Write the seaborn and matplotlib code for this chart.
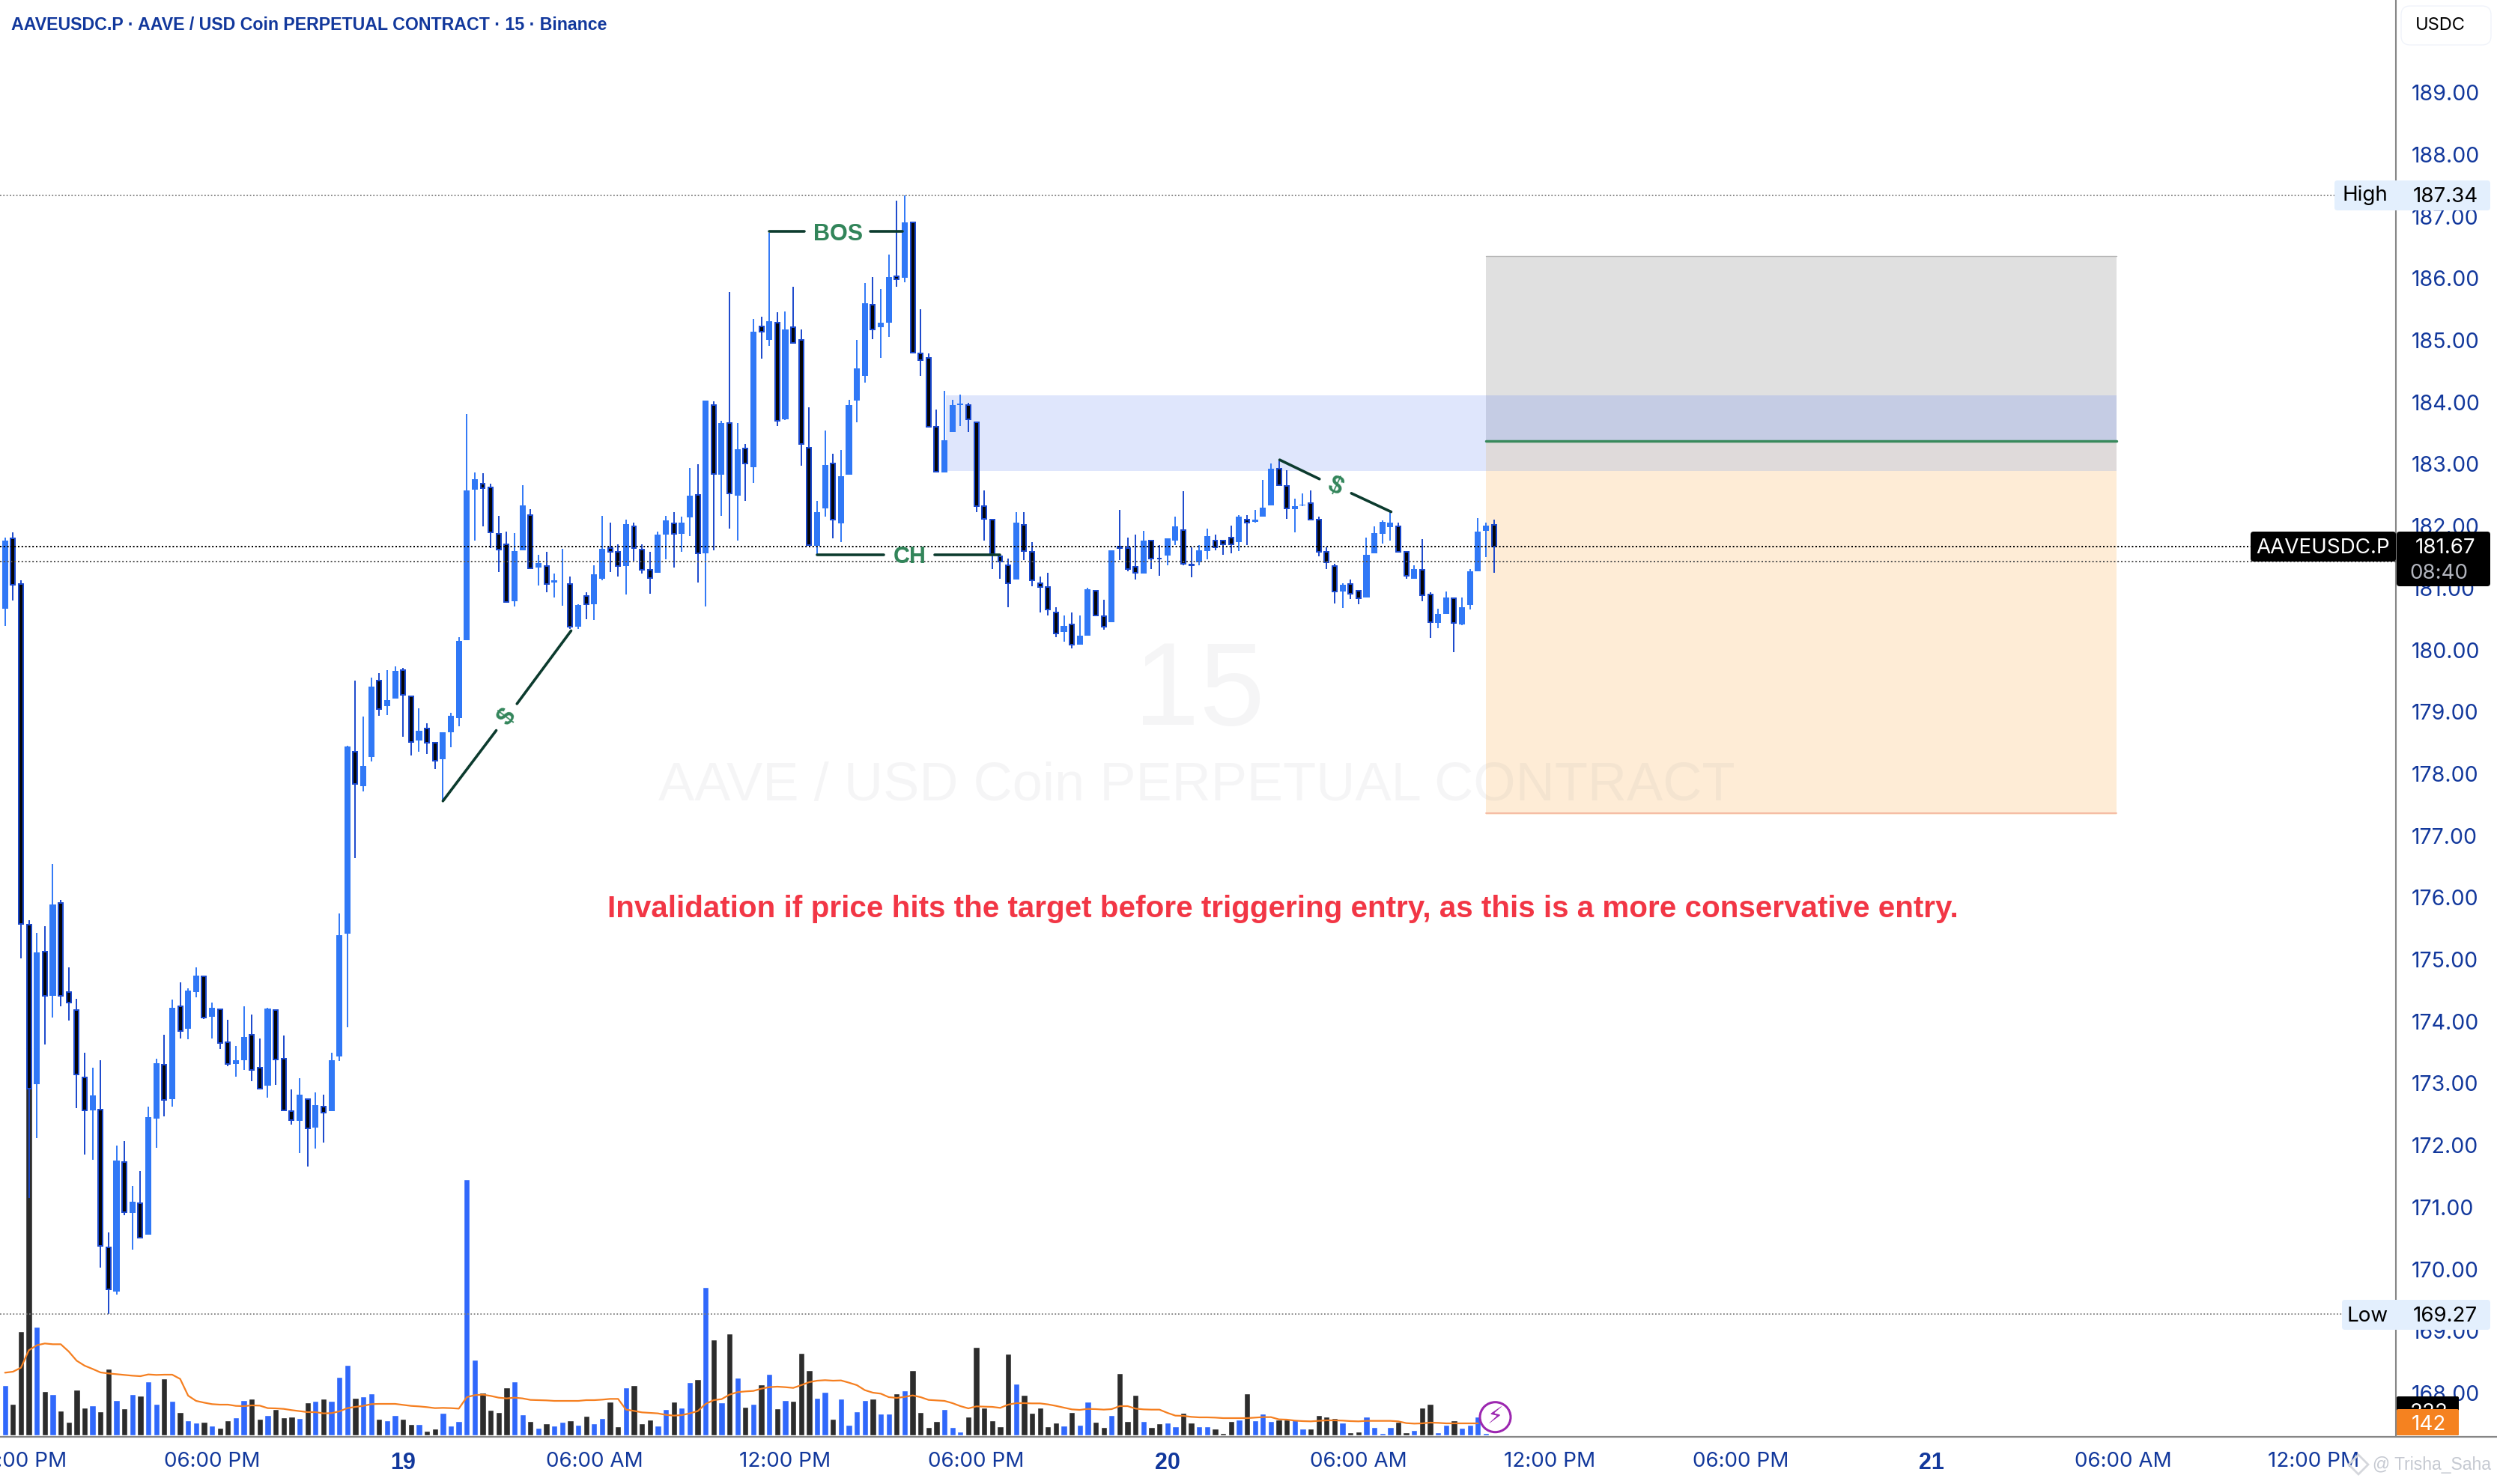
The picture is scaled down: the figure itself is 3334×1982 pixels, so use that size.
import numpy as np
import pandas as pd
import matplotlib
matplotlib.use("Agg")
import matplotlib.pyplot as plt
import matplotlib.patches as mpatches
from matplotlib.lines import Line2D
from matplotlib.transforms import IdentityTransform
import seaborn as sns

# 15 minute candles
open_prices = [
    180.66,181.80,181.07,175.56,172.99,175.13,174.41,175.91,174.47,174.18,
    173.09,172.56,172.57,170.35,169.64,171.73,170.91,171.06,170.56,172.43,
    173.30,172.74,174.24,173.88,174.47,174.73,174.07,174.20,173.67,173.31,
    173.38,173.78,173.25,172.96,174.18,173.40,172.55,172.39,172.75,172.28,
    172.62,172.55,173.43,175.42,178.36,177.80,178.27,179.50,179.09,179.21,
    179.67,179.25,178.54,178.73,178.50,178.24,178.67,178.90,180.16,182.59,
    182.69,182.63,181.88,181.70,180.79,181.61,182.18,181.33,181.36,181.09,
    181.06,181.07,180.38,180.87,180.74,181.15,181.64,181.59,181.35,181.99,
    181.62,181.29,181.24,181.86,182.04,181.87,182.14,182.50,181.56,183.96,
    182.83,183.67,182.49,183.25,182.95,185.22,185.01,185.29,183.73,185.21,
    185.01,183.27,181.68,182.29,183.01,182.04,182.83,184.03,184.42,185.57,
    185.21,185.29,186.03,186.01,186.91,184.79,184.72,183.60,182.87,183.52,
    183.96,183.96,183.68,182.32,182.10,181.51,181.37,181.14,182.02,181.59,
    181.08,181.02,180.60,180.29,180.41,180.08,180.23,180.96,180.55,180.45,
    181.67,181.65,181.34,181.23,181.77,181.48,181.52,181.76,181.94,181.38,
    181.42,181.60,181.76,181.76,181.82,181.74,182.11,182.07,182.15,182.33,
    182.93,182.65,182.27,182.34,182.37,182.11,181.59,181.36,180.94,181.07,
    180.95,180.85,181.56,181.87,181.98,182.00,181.59,181.15,181.30,180.89,
    180.43,180.58,180.83,180.41,180.72,181.27,181.92,182.02]
close_prices = [
    181.76,181.05,175.58,172.91,175.12,174.42,175.89,174.41,174.31,173.15,
    172.56,172.80,170.38,169.67,171.75,170.92,171.09,170.51,172.45,173.32,
    172.73,174.22,173.85,174.50,174.74,174.06,174.22,173.65,173.31,173.37,
    173.75,173.22,172.92,174.21,173.39,172.56,172.41,172.82,172.27,172.65,
    172.53,173.37,175.39,178.44,177.83,178.13,179.41,179.05,179.19,179.66,
    179.27,178.51,178.70,178.50,178.21,178.67,178.94,180.15,182.57,182.76,
    182.61,181.90,181.62,180.78,181.60,182.33,181.32,181.40,181.07,181.13,
    181.07,180.38,180.73,180.74,181.22,181.63,181.59,181.35,182.03,181.64,
    181.29,181.16,181.86,182.09,181.87,182.06,182.49,181.56,184.03,182.84,
    183.67,182.53,183.24,183.01,185.14,185.14,185.31,183.70,185.17,184.96,
    183.33,181.69,182.22,182.99,182.10,182.80,183.96,184.55,185.60,185.18,
    185.28,186.02,185.99,186.91,184.80,184.68,183.60,182.88,183.39,183.95,
    183.98,183.73,182.32,182.12,181.55,181.43,181.08,182.06,181.60,181.12,
    181.02,180.65,180.27,180.39,180.08,180.23,180.98,180.56,180.37,181.61,
    181.65,181.31,181.24,181.77,181.47,181.47,181.80,182.00,181.39,181.37,
    181.61,181.84,181.66,181.70,181.70,182.15,182.05,182.11,182.30,182.93,
    182.66,182.29,182.32,182.35,182.11,181.59,181.41,180.94,181.05,180.91,
    180.83,181.54,181.89,182.07,182.06,181.59,181.20,181.31,180.88,180.45,
    180.58,180.85,180.43,180.69,181.27,181.91,182.01,181.67]
high_prices = [
    181.82,181.90,181.12,175.63,175.43,175.54,176.54,175.96,174.87,174.36,
    173.50,173.25,173.37,170.59,171.99,172.07,171.34,171.58,172.62,173.40,
    173.79,174.35,174.63,174.53,174.87,174.74,174.30,174.20,174.03,173.60,
    174.24,174.11,173.73,174.22,174.18,173.77,172.90,173.08,172.75,172.85,
    172.82,173.49,175.74,178.45,179.51,178.93,179.55,179.62,179.67,179.74,
    179.71,179.25,179.06,178.81,178.50,178.67,178.98,180.21,183.81,182.87,
    182.85,182.68,182.16,181.91,181.89,182.66,182.27,181.53,181.59,181.23,
    181.63,181.19,180.74,180.93,181.37,182.17,182.05,181.70,182.11,182.05,
    181.71,181.59,181.91,182.16,182.22,182.15,182.94,183.00,184.03,184.02,
    183.70,185.78,183.67,183.32,185.35,185.38,186.74,185.45,185.47,185.87,
    185.17,183.92,182.41,183.54,183.17,183.23,184.04,185.01,185.92,186.02,
    185.83,186.39,187.26,187.34,186.91,185.50,184.79,183.88,184.18,184.04,
    184.12,183.99,183.68,182.57,182.10,181.53,181.47,182.22,182.22,181.74,
    181.19,181.25,180.69,180.56,180.60,180.56,181.01,180.96,180.81,181.61,
    182.26,181.81,181.86,181.92,181.77,181.69,181.80,182.15,182.56,181.66,
    181.69,181.96,181.86,181.76,182.01,182.18,182.18,182.26,182.74,183.01,
    183.08,182.90,182.44,182.53,182.57,182.15,181.66,181.39,181.08,181.14,
    180.95,181.81,182.00,182.09,182.22,182.05,181.59,181.37,181.79,180.93,
    180.66,180.94,180.83,180.85,181.31,182.13,182.06,182.11]
low_prices = [
    180.39,180.80,175.02,171.15,172.12,173.63,174.06,174.25,174.02,172.60,
    171.85,171.76,170.02,169.27,169.59,170.87,170.31,170.51,170.56,171.96,
    172.47,172.63,173.73,173.71,174.39,174.04,173.73,173.55,173.28,173.11,
    173.22,173.03,172.92,172.77,172.98,172.56,172.33,171.87,171.66,171.95,
    172.05,172.55,173.36,173.91,176.64,177.72,178.20,178.94,178.95,179.21,
    178.60,178.30,178.36,178.32,178.08,177.56,178.43,178.77,180.16,181.76,
    181.99,181.65,181.26,180.78,180.70,181.61,181.32,181.04,180.93,180.85,
    180.71,180.34,180.34,180.50,180.48,181.12,181.26,181.19,180.90,181.43,
    181.23,180.91,181.24,181.46,181.33,181.58,181.84,181.09,180.70,181.61,
    182.16,181.96,181.76,182.41,182.70,184.70,184.91,183.61,183.71,184.95,
    182.98,181.69,181.53,182.15,181.80,181.74,182.83,183.68,184.32,185.02,
    184.72,185.06,185.86,185.94,184.80,184.43,183.60,182.87,182.87,183.52,
    183.61,183.52,182.23,181.76,181.31,181.15,180.69,181.15,181.45,181.03,
    180.61,180.56,180.21,180.13,180.02,180.08,180.23,180.54,180.33,180.45,
    181.45,181.27,181.14,181.23,181.31,181.20,181.37,181.69,181.37,181.17,
    181.37,181.46,181.61,181.54,181.56,181.60,181.69,182.06,182.15,182.33,
    182.66,182.12,181.90,182.32,182.11,181.51,181.31,180.75,180.68,180.82,
    180.74,180.85,181.56,181.72,181.77,181.59,181.15,181.15,180.79,180.19,
    180.35,180.58,179.96,180.40,180.65,181.27,181.50,181.25]

volume = [
    201,126,417,1551,435,177,165,99,54,183,
    111,120,96,267,141,108,165,159,216,126,
    228,138,93,60,51,54,39,30,60,72,
    141,147,66,81,105,72,75,69,132,138,
    147,138,234,282,150,156,168,66,60,81,
    66,45,45,18,27,90,39,57,1026,303,
    171,102,93,192,216,84,57,30,48,39,
    54,60,42,78,48,69,135,36,192,201,
    48,63,39,105,135,111,213,225,594,384,
    132,408,231,114,126,204,246,108,141,138,
    330,261,150,174,66,147,42,96,141,147,
    87,87,168,180,261,93,33,57,105,33,
    15,75,354,111,60,36,327,207,162,90,
    111,36,51,39,93,42,135,54,33,81,
    249,57,162,57,33,48,51,36,90,51,
    36,36,27,9,57,63,168,60,87,57,
    63,63,63,27,27,81,75,69,51,12,
    15,75,33,9,33,54,12,21,111,126,
    12,42,60,30,42,75,9,3]
volume_ma = [
    251,255,271,341,361,368,365,365,336,299,279,266,252,248,245,242,239,237,244,242,
    243,243,226,159,138,131,125,123,123,118,117,120,119,109,108,106,101,97,93,93,
    88,89,96,109,114,118,125,126,126,126,122,118,116,113,109,110,109,107,153,161,
    163,158,151,148,151,148,142,141,140,138,138,138,138,141,141,143,146,146,103,98,
    92,90,88,82,79,81,88,97,126,141,145,163,173,176,
    178,187,193,195,193,190,201,213,219,221,219,220,211,201,181,171,167,153,150,154,
    160,153,142,140,138,129,117,108,116,115,114,110,123,129,129,128,128,124,118,111,
    104,102,106,105,103,105,117,117,107,104,103,103,90,79,78,74,72,72,71,69,
    69,69,69,71,73,73,64,63,59,57,56,58,60,60,59,57,56,58,58,58,58,56,49,47,48,51,
    50,48,48,48,48,48]

price_ticks = list(range(189, 167, -1))
time_tick_pos = [2, 26, 50, 74, 98, 122, 146, 170, 194, 218, 242, 266, 290]
time_tick_labels = ["12:00 PM", "06:00 PM", "19", "06:00 AM", "12:00 PM", "06:00 PM", "20",
                    "06:00 AM", "12:00 PM", "06:00 PM", "21", "06:00 AM", "12:00 PM"]
day_labels = ["19", "20", "21"]

last_price = 181.67
prev_line = 181.43
session_high = 187.34
session_low = 169.27
stop_level = 186.36
entry_level = 183.37
target_level = 177.36
zone_top = 184.11
zone_bottom = 182.89
box_start, box_end = 186.0, 265.2
zone_start = 118.2

W, H = 3334, 1982
UP = "#3078f6"
DOWN_EDGE = "#1a48cc"
TXT = "#12389c"
GREEN = "#32855a"
LINE = "#0c3b2e"
AXIS = "#868686"
SANS = "Liberation Sans"
UI = "Inter"

sns.set_theme(style="white")
plt.rcParams["font.family"] = [SANS, "DejaVu Sans"]

fig = plt.figure(figsize=(W / 100, H / 100), dpi=100, facecolor="white")
rect = [0, (H - 1918) / H, 3199 / W, 1918 / H]
ax_vol = fig.add_axes(rect, zorder=1)
ax = fig.add_axes(rect, zorder=2)
ax.patch.set_alpha(0)

n = len(close_prices)
idx = np.arange(n)
df = pd.DataFrame({"bar": idx, "open": open_prices, "high": high_prices, "low": low_prices,
                   "close": close_prices, "volume": volume})
df["side"] = np.where(df["close"] >= df["open"], "up", "down")

# volume pane
sns.barplot(data=df, x="bar", y="volume", hue="side", dodge=False, native_scale=True,
            palette={"up": "#3068fb", "down": "#2c2c2c"}, saturation=1, width=0.78,
            legend=False, ax=ax_vol)
sns.lineplot(x=np.arange(len(volume_ma)), y=volume_ma, color="#f57f20", lw=1.6, ax=ax_vol)
ax_vol.set_xlim(-0.63, 300.3)
ax_vol.set_ylim(-3, 5751)
ax_vol.axis("off")

# price pane
ax.set_xlim(-0.63, 300.3)
ax.set_ylim(167.304, 190.496)

ax.axhspan(zone_bottom, zone_top, xmin=(zone_start + 0.63) / 300.93, xmax=(box_start + 0.63) / 300.93,
           color="#dfe6fc", lw=0, zorder=1)
for lo, hi, col in [(zone_top, stop_level, "#e0e0e0"), (entry_level, zone_top, "#c5cce4"),
                    (zone_bottom, entry_level, "#dfdada"), (target_level - 0.025, zone_bottom, "#feecd6")]:
    ax.fill_between([box_start, box_end], lo, hi, color=col, lw=0, zorder=1)
ax.plot([box_start, box_end], [stop_level] * 2, color="#b5b5b5", lw=1, zorder=1.5)
ax.plot([box_start, box_end], [target_level] * 2, color="#f5b8a0", lw=1.3, zorder=1.5)
ax.plot([box_start, box_end], [entry_level] * 2, color="#38895c", lw=2.5, zorder=1.5)

# faint symbol watermark, sits over the boxes
ax.text(150, 179.28, "15", fontsize=113, color="#787b86", alpha=0.07, ha="center", va="center", zorder=1.7)
ax.text(149.7, 177.79, "AAVE / USD Coin PERPETUAL CONTRACT", fontsize=52, color="#787b86", alpha=0.07,
        ha="center", va="center", zorder=1.7)

up = df[df["side"] == "up"]
down = df[df["side"] == "down"]
ax.vlines(up["bar"], up["low"], up["high"], color=UP, lw=1.4, zorder=3)
ax.vlines(down["bar"], down["low"], down["high"], color=DOWN_EDGE, lw=1.4, zorder=3)
ax.bar(up["bar"], up["close"] - up["open"], bottom=up["open"], width=0.76, color=UP, lw=0, zorder=3.1)
ax.bar(down["bar"], down["close"] - down["open"], bottom=down["open"], width=0.56, color="#050505",
       edgecolor=DOWN_EDGE, lw=1.44, zorder=3.1)

dot = (0, (1, 1.4))
ax.axhline(session_high, color="#808080", lw=1.3, ls=dot, zorder=4)
ax.axhline(session_low, color="#808080", lw=1.3, ls=dot, zorder=4)
ax.axhline(last_price, color="#000000", lw=1.44, ls=dot, zorder=4)
ax.axhline(prev_line, color="#555555", lw=1.44, ls=dot, zorder=4)

# drawings
def seg(x0, x1, y0, y1):
    ax.plot([x0, x1], [y0, y1], color=LINE, lw=2.6, solid_capstyle="round", zorder=5)

seg(96, 100.4, 186.76, 186.76)
seg(108.7, 112.7, 186.76, 186.76)
ax.text(104.6, 186.71, "BOS", color=GREEN, fontsize=22, fontweight="bold", ha="center", va="center", zorder=5)
seg(102, 110.4, 181.54, 181.54)
seg(116.8, 125, 181.54, 181.54)
ax.text(113.6, 181.50, "CH", color=GREEN, fontsize=22, fontweight="bold", ha="center", va="center", zorder=5)
seg(55, 61.7, 177.56, 178.70)
seg(64.3, 71.1, 179.13, 180.31)
ax.text(63.1, 178.92, "$", color=GREEN, fontsize=24, fontweight="bold", rotation=53, ha="center", va="center", zorder=5)
seg(160.1, 165.1, 183.07, 182.76)
seg(169.1, 174.1, 182.53, 182.23)
ax.text(167.1, 182.64, "$", color=GREEN, fontsize=24, fontweight="bold", rotation=-25, ha="center", va="center", zorder=5)
ax.text(160.5, 175.82, "Invalidation if price hits the target before triggering entry, as this is a more conservative entry.",
        color="#f23645", fontsize=29.1, fontweight="bold", ha="center", va="center", zorder=5)

# axes
ax.set_yticks(price_ticks)
ax.set_yticklabels(["%.2f" % p for p in price_ticks], family=UI)
ax.yaxis.tick_right()
ax.tick_params(axis="y", length=0, pad=15, labelsize=20.5, labelcolor=TXT)
ax.set_xticks(time_tick_pos)
ax.set_xticklabels(time_tick_labels, family=UI)
ax.tick_params(axis="x", length=0, pad=15, labelsize=20, labelcolor=TXT)
for lab in ax.get_xticklabels():
    if lab.get_text() in day_labels:
        lab.set_fontfamily(SANS)
        lab.set_fontweight("bold")
        lab.set_fontsize(22)
for side in ["top", "left", "bottom"]:
    ax.spines[side].set_visible(False)
ax.spines["right"].set_color(AXIS)
ax.spines["right"].set_linewidth(1.5)
ax.grid(False)
ax.set_xlabel("")
ax.set_ylabel("")

# overlay labels, placed in pixels from the top left
def box(x0, y0, x1, y1, color, z=5, rounding=4, ec="none"):
    fig.add_artist(mpatches.FancyBboxPatch((x0, H - y1), x1 - x0, y1 - y0,
                                           boxstyle="round,pad=0,rounding_size=%d" % rounding,
                                           fc=color, ec=ec, transform=IdentityTransform(), zorder=z))

def label(x, y, s, color="#000000", size=20, ha="center", weight="normal", z=6, family=UI, **kw):
    fig.text(x, H - y, s, color=color, fontsize=size, ha=ha, va="center", fontweight=weight, family=family,
             transform=IdentityTransform(), zorder=z, **kw)

fig.add_artist(Line2D([0, W], [H - 1918.5] * 2, color=AXIS, lw=1.6, transform=IdentityTransform(), zorder=4))

label(15, 34, "AAVEUSDC.P \u00b7 AAVE / USD Coin PERPETUAL CONTRACT \u00b7 15 \u00b7 Binance", color=TXT, size=16.65,
      ha="left", weight="bold", family=SANS)
box(3206, 8, 3326, 60, "white", rounding=12, ec="#f0f3fa")
label(3258, 34, "USDC", color="#000000", size=17)

box(3117, 241, 3325, 281, "#e3effd")
label(3158, 261, "High")
label(3265, 263, "187.34")
box(3127, 1736, 3325, 1776, "#e3effd")
label(3161, 1758, "Low")
label(3265, 1758, "169.27")

box(3005, 710, 3199, 750, "#000000")
label(3102, 732, "AAVEUSDC.P", color="white")
box(3200, 710, 3325, 783, "#000000")
label(3265, 732, "181.67", color="white")
label(3256, 766, "08:40", color="#b2b5be")

box(3200, 1865, 3283, 1917, "#000000", z=5, rounding=2)
label(3243, 1887, "222", color="white")
box(3200, 1882, 3283, 1917, "#f58220", z=6.5, rounding=2)
label(3243, 1903, "142", color="white", z=7)

# alert badge
fig.add_artist(mpatches.Ellipse((1996.5, H - 1892.7), 41, 40, fc="white", ec="#9c27b0", lw=2.2,
                                transform=IdentityTransform(), zorder=5))
fig.text(1996.5, H - 1892.7, "\u26a1", color="#9c27b0", fontsize=22, ha="center", va="center",
         family="DejaVu Sans", transform=IdentityTransform(), zorder=6)

# corner credit
fig.add_artist(mpatches.RegularPolygon((3149, H - 1956), 4, radius=13, fc="none", ec="#d5d7dc", lw=2,
                                       transform=IdentityTransform(), zorder=8))
label(3168, 1957, "@ Trisha_Saha", color="#bfc3cc", size=16.5, ha="left", z=8, family=SANS, alpha=0.9)

fig.savefig("out.png", dpi=100, facecolor="white")
